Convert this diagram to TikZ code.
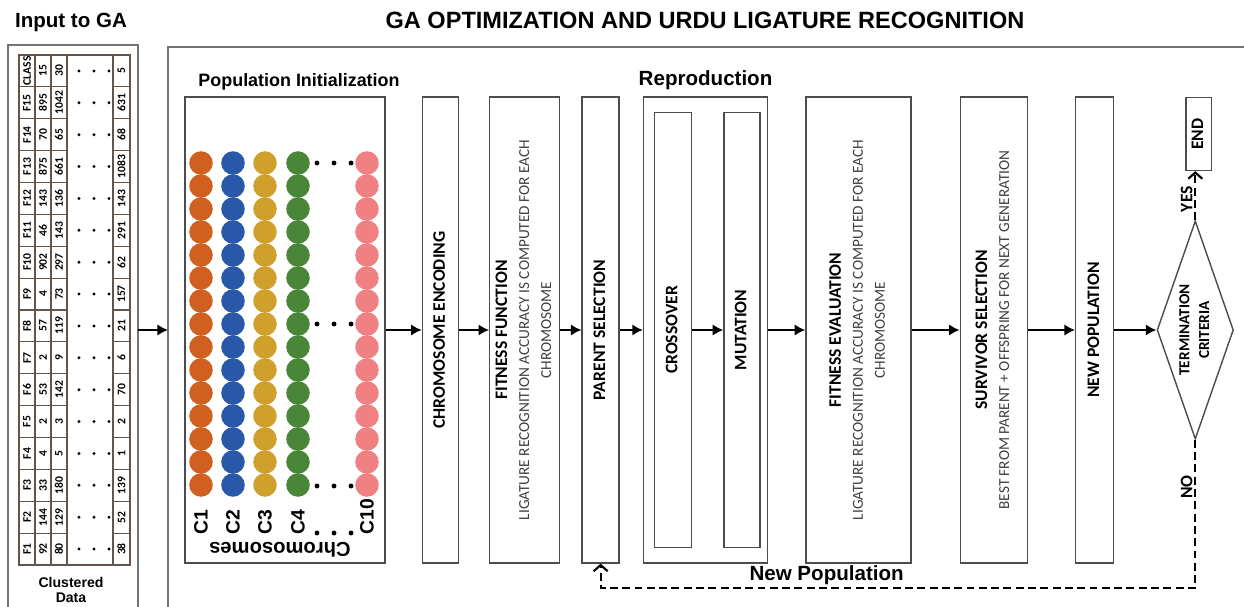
\documentclass[tikz,border=0pt]{standalone}
\usepackage{fontspec}
\setmainfont{Liberation Sans}
\newfontfamily\boxfont{Carlito}
\usepackage{graphicx}
\usetikzlibrary{positioning, shapes.geometric, arrows.meta}

\definecolor{cOne}{RGB}{208,96,32}
\definecolor{cTwo}{RGB}{42,88,168}
\definecolor{cThree}{RGB}{208,160,44}
\definecolor{cFour}{RGB}{74,134,56}
\definecolor{cTen}{RGB}{240,128,130}
\definecolor{frameGray}{RGB}{115,115,115}
\definecolor{tblBrown}{RGB}{100,85,75}

\newcommand{\vtext}[1]{\rotatebox{90}{\begin{tabular}{@{}c@{}}#1\end{tabular}}}
\newcommand{\bigb}[1]{{\bfseries\fontsize{10}{12.5}\selectfont #1}}

\begin{document}
\begin{tikzpicture}[
        x=0.02cm, y=-0.02cm,
        >={Latex[length=6pt,width=6.5pt]},
        box/.style={draw=black!70, line width=0.8pt, rectangle, minimum height=9.32cm, inner sep=1pt,
            font=\boxfont\fontsize{8.7}{12.5}\selectfont},
        inbox/.style={box, minimum height=8.7cm},
        arr/.style={->, line width=1.4pt},
        loopline/.style={line width=1.2pt, dash pattern=on 4.5pt off 2.5pt},
        barb/.style={-{Straight Barb[length=3.5pt,width=8pt]}},
        hdr/.style={font=\bfseries\fontsize{11.7}{14}\selectfont},
        cell/.style={font=\boxfont\bfseries\fontsize{6.6}{8}\selectfont, rotate=90, inner sep=0pt},
        clbl/.style={font=\bfseries\fontsize{11}{13}\selectfont, rotate=90, inner sep=0pt},
        yn/.style={font=\boxfont\bfseries\fontsize{10}{12}\selectfont, rotate=90, inner sep=1pt}
    ]

    \useasboundingbox (0,0) rectangle (1244,607);

    \node[font=\bfseries\fontsize{13.4}{16}\selectfont] (title) at (705,20) {GA OPTIMIZATION AND URDU LIGATURE RECOGNITION};
    \node[hdr] (inputlbl) at (71,22) {Input to GA};

    % frames
    \draw[frameGray, line width=1.1pt] (8,607) -- (8,45) -- (138,45) -- (138,607);
    \draw[frameGray, line width=1.1pt] (168,607) -- (168,47) -- (1244,47);

    % clustered data table
    \draw[tblBrown, line width=0.6pt] (19,55) rectangle (130,565);
    \foreach \xx in {35,51,67,113}
        \draw[tblBrown, line width=0.6pt] (\xx,55) -- (\xx,565);
    \foreach \k in {1,...,15} {
        \draw[tblBrown, line width=0.6pt] (19,{55+31.875*\k}) -- (67,{55+31.875*\k});
        \draw[tblBrown, line width=0.6pt] (113,{55+31.875*\k}) -- (130,{55+31.875*\k});
    }
    \foreach \f/\va/\vb/\vz [count=\r from 0] in {F1/92/80/38, F2/144/129/52, F3/33/180/139, F4/4/5/1,
            F5/2/3/2, F6/53/142/70, F7/2/9/6, F8/57/119/21, F9/4/73/157, F10/902/297/62,
            F11/46/143/291, F12/143/136/143, F13/875/661/1083, F14/70/65/68, F15/895/1042/631,
            CLASS/15/30/5} {
        \pgfmathsetmacro{\yy}{565-31.875*(\r+0.5)}
        \node[cell] (hd\r) at (27,\yy) {\f};
        \node[cell] (va\r) at (43,\yy) {\va};
        \node[cell] (vb\r) at (59,\yy) {\vb};
        \node[cell] (vz\r) at (121.5,\yy) {\vz};
        \foreach \dx in {79,94,109}
            \fill (\dx,\yy) circle (0.9pt);
    }
    \node[font=\bfseries\fontsize{8}{9}\selectfont, align=center] (clust) at (71,590) {Clustered\\Data};

    \coordinate (tblout) at (138,330);
    \coordinate (framein) at (168,330);
    \draw[arr] (tblout) -- (framein);

    % population
    \node[box, minimum width=4cm, label={[font=\bfseries\fontsize{10.2}{12}\selectfont, xshift=0.28cm]above:Population Initialization}] (popinit) at (285,330) {};
    \foreach \cx/\col in {201/cOne, 233/cTwo, 265/cThree, 298/cFour, 367/cTen}
        \foreach \i in {0,...,14}
            \fill[\col] (\cx,{163+23*\i}) circle (6.7pt);
    \foreach \yy in {163,324,486,533}
        \foreach \dx in {317,334,351}
            \fill (\dx,\yy) circle (1.4pt);
    \foreach \cx/\nm in {201/C1, 233/C2, 265/C3, 298/C4, 367/C10}
        \node[clbl, anchor=west] (lbl\nm) at (\cx,535) {\nm};
    \node[font=\bfseries\fontsize{11.5}{13}\selectfont, rotate=180] (chromlbl) at (280,550) {Chromosomes};

    % GA steps
    \node[box, minimum width=0.72cm, right=0.72cm of popinit] (chromenc) {\vtext{\bigb{CHROMOSOME ENCODING}}};
    \node[box, minimum width=1.4cm, right=0.6cm of chromenc] (fitfun) {\vtext{\bigb{FITNESS FUNCTION}\\
        \color{black!75}LIGATURE RECOGNITION ACCURACY IS COMPUTED FOR EACH\\ \color{black!75}CHROMOSOME}};
    \node[box, minimum width=0.74cm, right=0.42cm of fitfun] (parentsel) {\vtext{\bigb{PARENT SELECTION}}};
    \node[box, minimum width=2.48cm, right=0.46cm of parentsel, label={[hdr]above:Reproduction}] (repro) {};
    \node[inbox, minimum width=0.74cm, right=0.22cm of repro.west] (cross) {\vtext{\bigb{CROSSOVER}}};
    \node[inbox, minimum width=0.72cm, right=0.62cm of cross] (mut) {\vtext{\bigb{MUTATION}}};
    \node[box, minimum width=2.1cm, right=0.74cm of repro] (fiteval) {\vtext{\bigb{FITNESS EVALUATION}\\
        \color{black!75}LIGATURE RECOGNITION ACCURACY IS COMPUTED FOR EACH\\ \color{black!75}CHROMOSOME}};
    \node[box, minimum width=1.34cm, right=0.96cm of fiteval] (survivor) {\vtext{\bigb{SURVIVOR SELECTION}\\
        \color{black!75}BEST FROM PARENT + OFFSPRING FOR NEXT GENERATION}};
    \node[box, minimum width=0.76cm, right=0.94cm of survivor] (newpop) {\vtext{\bigb{NEW POPULATION}}};
    \node[draw=black!70, line width=0.8pt, diamond, aspect=0.35, minimum width=1.34cm, minimum height=3.9cm,
        inner sep=1pt, font=\boxfont\bfseries\fontsize{8.7}{11.3}\selectfont, right=0.84cm of newpop] (term)
        {\rotatebox{90}{\begin{tabular}{@{}c@{}}TERMINATION\\CRITERIA\end{tabular}}};
    \node[box, minimum width=0.5cm, minimum height=1.46cm, above=0.98cm of term, xshift=0.07cm] (endbox) {\vtext{\bigb{END}}};

    \draw[arr] (popinit.east) -- (chromenc.west);
    \draw[arr] (chromenc.east) -- (fitfun.west);
    \draw[arr] (fitfun.east) -- (parentsel.west);
    \draw[arr] (parentsel.east) -- (repro.west);
    \draw[arr] (cross.east) -- (mut.west);
    \draw[arr] (repro.east) -- (fiteval.west);
    \draw[arr] (fiteval.east) -- (survivor.west);
    \draw[arr] (survivor.east) -- (newpop.west);
    \draw[arr] (newpop.east) -- (term.west);

    \draw[loopline, barb] (term.north) -- node[yn, pos=0.43, anchor=south] (yes) {YES} (term.north |- endbox.south);
    \coordinate (loopturn) at (parentsel.south |- 0,588);
    \draw[loopline, barb] (term.south) |- node[yn, pos=0.16, anchor=south] (no) {NO}
        node[hdr, pos=0.81, above, inner sep=1pt] (newpoplbl) {New Population} (loopturn) -- (parentsel.south);

\end{tikzpicture}
\end{document}
